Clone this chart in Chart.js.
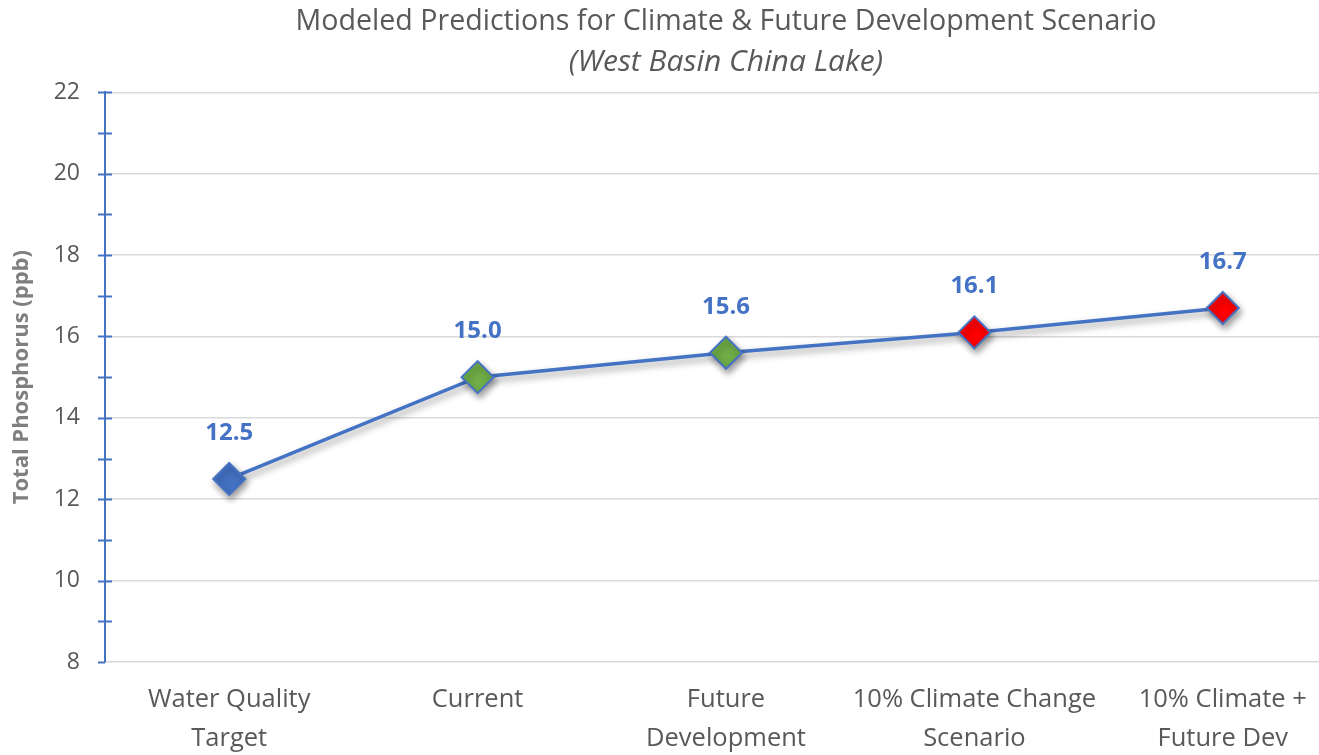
<!DOCTYPE html>
<html>
<head>
<meta charset="utf-8">
<title>Modeled Predictions - West Basin China Lake</title>
<script src="https://cdn.jsdelivr.net/npm/chart.js@4.4.1/dist/chart.umd.min.js"></script>
<style>
  html, body { margin: 0; padding: 0; background: #ffffff; overflow: hidden; }
  #wrap { position: absolute; left: 0; top: 0; width: 1365px; height: 755px; }
</style>
</head>
<body>
<div id="wrap"><canvas id="fosforoChart" width="1365" height="755"></canvas></div>
<script>
// cenários e valores de fósforo total (ppb)
const cenarios = [
    ['Water Quality', 'Target'],
    'Current',
    ['Future', 'Development'],
    ['10% Climate Change', 'Scenario'],
    ['10% Climate +', 'Future Dev']
];
const fosforoTotal = [12.5, 15.0, 15.6, 16.1, 16.7];
const coresPontos = ['#4472C4', '#70AD47', '#70AD47', '#FF0000', '#FF0000'];
const eixoY = { min: 8, max: 22, passo: 2 };

const AZUL = '#4472C4';
const CINZA_TEXTO = '#595959';
const FONTE = "'Open Sans', 'DejaVu Sans', sans-serif";

// sombra suave embaixo da linha e dos marcadores
const sombraLinha = {
    id: 'sombraLinha',
    beforeDatasetDraw(chart) {
        const ctx = chart.ctx;
        ctx.save();
        ctx.shadowColor = 'rgba(0, 0, 0, 0.4)';
        ctx.shadowBlur = 7;
        ctx.shadowOffsetX = 2;
        ctx.shadowOffsetY = 4;
    },
    afterDatasetDraw(chart) {
        chart.ctx.restore();
    }
};

// marcas do eixo Y cruzando a linha do eixo (maiores e menores)
const marcasEixo = {
    id: 'marcasEixo',
    afterDraw(chart) {
        const y = chart.scales.y;
        const ctx = chart.ctx;
        const x0 = chart.chartArea.left;
        ctx.save();
        ctx.strokeStyle = AZUL;
        ctx.lineWidth = 2;
        for (let v = eixoY.min; v <= eixoY.max; v += 1) {
            const py = Math.round(y.getPixelForValue(v)) + 0.5;
            ctx.beginPath();
            ctx.moveTo(x0 - 7, py);
            ctx.lineTo(v === eixoY.min ? x0 : x0 + 7, py);
            ctx.stroke();
        }
        ctx.restore();
    }
};

// rótulos de valor acima de cada ponto
const rotulosValor = {
    id: 'rotulosValor',
    afterDatasetsDraw(chart) {
        const ctx = chart.ctx;
        const meta = chart.getDatasetMeta(0);
        ctx.save();
        ctx.font = "bold 24px " + FONTE;
        ctx.fillStyle = AZUL;
        ctx.textAlign = 'center';
        ctx.textBaseline = 'middle';
        meta.data.forEach((pt, i) => {
            ctx.fillText(fosforoTotal[i].toFixed(1), pt.x, pt.y - 46);
        });
        ctx.restore();
    }
};

const ctx = document.getElementById('fosforoChart').getContext('2d');
const fosforoChart = new Chart(ctx, {
    type: 'line',
    data: {
        labels: cenarios,
        datasets: [{
            label: 'Total Phosphorus (ppb)',
            data: fosforoTotal,
            borderColor: AZUL,
            borderWidth: 3.5,
            tension: 0,
            pointStyle: 'rectRot',
            pointRadius: 16,
            pointHoverRadius: 16,
            pointBackgroundColor: coresPontos,
            pointBorderColor: AZUL,
            pointBorderWidth: 2
        }]
    },
    options: {
        responsive: false,
        animation: false,
        layout: { padding: { top: 4, left: 0, right: 4, bottom: 0 } },
        scales: {
            x: {
                offset: true,
                grid: { display: false, drawTicks: false },
                border: { display: false },
                ticks: {
                    color: CINZA_TEXTO,
                    font: { family: FONTE, size: 25.5, lineHeight: 1.5 },
                    padding: 19,
                    maxRotation: 0,
                    autoSkip: false
                },
                afterFit(scale) { scale.height = 93; }
            },
            y: {
                min: eixoY.min,
                max: eixoY.max,
                grid: {
                    drawTicks: false,
                    color: (c) => (c.tick && c.tick.value % 2 === 0) ? '#D9D9D9' : 'rgba(0,0,0,0)',
                    lineWidth: 1.5
                },
                border: { display: true, color: AZUL, width: 2 },
                ticks: {
                    stepSize: 1,
                    color: CINZA_TEXTO,
                    font: { family: FONTE, size: 23 },
                    padding: 25,
                    callback: (v) => (v % eixoY.passo === 0 ? v : '')
                },
                title: {
                    display: true,
                    text: 'Total Phosphorus (ppb)',
                    color: '#7F7F7F',
                    font: { family: FONTE, size: 22, weight: 'bold', lineHeight: 1.2 },
                    padding: { top: 9, bottom: 0 }
                },
                afterFit(scale) { scale.width = 105; }
            }
        },
        plugins: {
            legend: { display: false },
            tooltip: { enabled: false },
            title: {
                display: true,
                fullSize: false,
                text: 'Modeled Predictions for Climate & Future Development Scenario',
                color: CINZA_TEXTO,
                font: { family: FONTE, size: 28.6, weight: 'normal', lineHeight: 1.2 },
                padding: { top: 1, bottom: 5 }
            },
            subtitle: {
                display: true,
                fullSize: false,
                text: '(West Basin China Lake)',
                color: CINZA_TEXTO,
                font: { family: FONTE, size: 30, style: 'italic', lineHeight: 1.2 },
                padding: { top: 0, bottom: 12 }
            }
        }
    },
    plugins: [sombraLinha, marcasEixo, rotulosValor]
});
</script>
</body>
</html>
